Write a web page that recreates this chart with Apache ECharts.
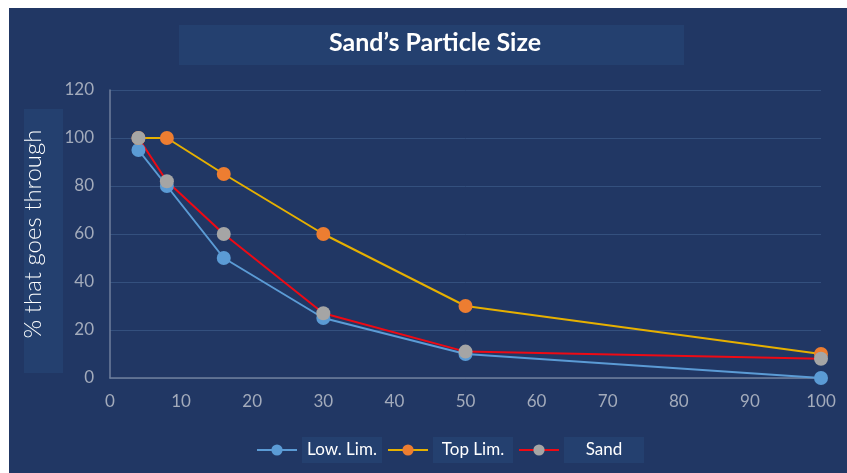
<!DOCTYPE html>
<html><head><meta charset="utf-8">
<script src="https://cdn.jsdelivr.net/npm/echarts@6/dist/echarts.min.js"></script>
<style>html,body{margin:0;padding:0;background:#fff;}#c{position:absolute;left:9px;top:8px;width:838px;height:465px;}</style>
</head><body><div id="c"></div>
<script>
const xValues = [4, 8, 16, 30, 50, 100];
const lowLim = [95, 80, 50, 25, 10, 0];
const topLim = [100, 100, 85, 60, 30, 10];
const sand = [100, 82, 60, 27, 11, 8];
const seriesNames = ['Low. Lim.', 'Top Lim.', 'Sand'];
const titleText = 'Sand\u2019s Particle Size';
const yName = '% that goes through';

const pair = arr => xValues.map((x, i) => [x, arr[i]]);
const BG = '#213764', BOX = '#24406f', FONT = 'Lato, "Open Sans", sans-serif';
const chart = echarts.init(document.getElementById('c'));
function mk(name, data, mc, lc) {
  return { name, type: 'line', data: pair(data), symbol: 'circle', symbolSize: 14,
    itemStyle: { color: mc }, lineStyle: { color: lc, width: 2 }, emphasis: { disabled: true } };
}
chart.setOption({
  backgroundColor: BG,
  animation: false,
  textStyle: { fontFamily: FONT },
  graphic: [
    { type: 'rect', left: 170, top: 17, shape: { width: 505, height: 40 }, style: { fill: BOX }, z: -1 },
    { type: 'rect', left: 15, top: 101, shape: { width: 39, height: 264 }, style: { fill: BOX }, z: -1 }
  ],
  title: { text: titleText, left: 421, top: 30, textAlign: 'center', textVerticalAlign: 'middle',
    textStyle: { color: '#ffffff', fontSize: 25, fontWeight: 'bold', fontFamily: FONT } },
  grid: { left: 101, right: 26, top: 82, bottom: 95 },
  legend: { left: 242, top: 424, itemWidth: 40, itemHeight: 14, itemGap: 5,
    data: seriesNames,
    formatter: n => '{b|' + n + '}',
    textStyle: { color: '#ffffff', fontSize: 17, fontFamily: FONT,
      rich: { b: { width: 80, height: 26, align: 'center', backgroundColor: BOX, color: '#ffffff', fontSize: 17, fontFamily: FONT } } } },
  xAxis: { type: 'value', min: 0, max: 100, interval: 10,
    axisLine: { show: true, lineStyle: { color: '#6f7f9c', width: 1.5 } },
    axisTick: { show: false }, splitLine: { show: false },
    axisLabel: { color: '#a3abbb', fontSize: 17, margin: 15, fontFamily: FONT } },
  yAxis: { type: 'value', min: 0, max: 120, interval: 20,
    name: yName, nameLocation: 'middle', nameGap: 65, nameRotate: 90,
    nameTextStyle: { color: '#ffffff', fontSize: 24, fontFamily: FONT, fontWeight: 300 },
    axisLine: { show: true, lineStyle: { color: '#6f7f9c', width: 1.5 } },
    axisTick: { show: false },
    splitLine: { lineStyle: { color: '#34507e', width: 1 } },
    axisLabel: { color: '#a3abbb', fontSize: 17, margin: 16, fontFamily: FONT } },
  series: [
    mk(seriesNames[0], lowLim, '#5b9bd5', '#5b9bd5'),
    mk(seriesNames[1], topLim, '#ed7d31', '#e6b000'),
    mk(seriesNames[2], sand, '#a5a5a5', '#ee0a14')
  ]
});
</script></body></html>
